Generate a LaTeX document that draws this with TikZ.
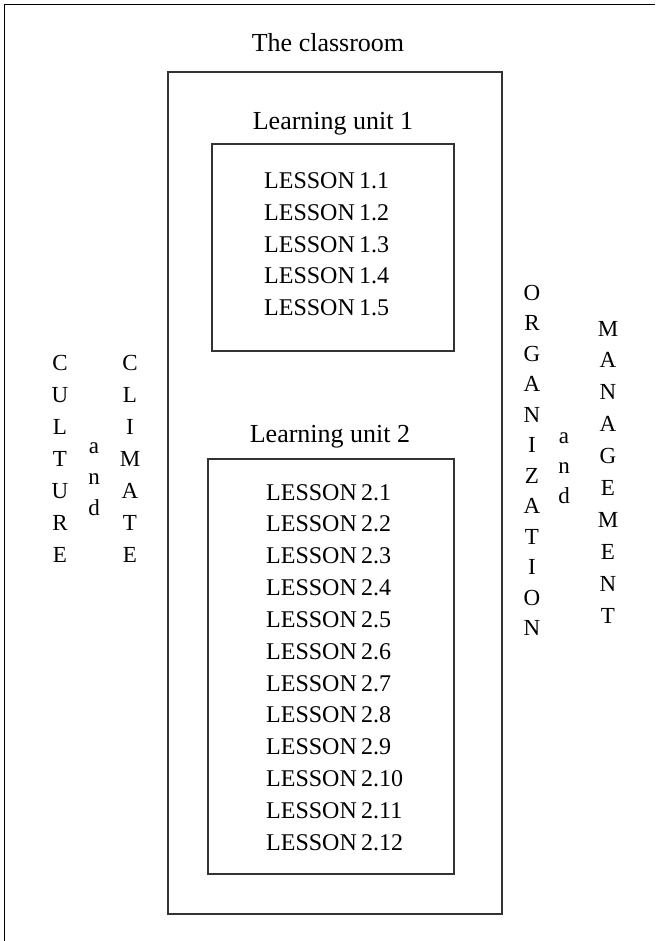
\documentclass[tikz,border=0pt]{standalone}
\usepackage{fontspec}
\setmainfont{Liberation Serif}
\begin{document}
\begin{tikzpicture}[x=1pt,y=-1pt,
  txt/.style={inner sep=0pt,font=\fontsize{23}{28}\selectfont},
  lsn/.style={inner sep=0pt,font=\fontsize{24}{29}\selectfont},
  ttl/.style={inner sep=0pt,font=\fontsize{26}{31}\selectfont},
  boxline/.style={draw=black!80,line width=1.1pt},
  frameline/.style={draw=black,line width=1.6pt}]
\useasboundingbox (0,0) rectangle (655,941);
% outer frame (top and left only)
\draw[frameline] (4.5,941) -- (4.5,4.5) -- (655,4.5);
% boxes
\draw[boxline] (168,72) rectangle (502,914);
\draw[boxline] (212,144) rectangle (454,351);
\draw[boxline] (208,459) rectangle (454,874);
% titles
\node[ttl,anchor=base] (title) at (328,52) {The classroom};
\node[ttl,anchor=base] (unit1) at (333,130) {Learning unit 1};
\node[ttl,anchor=base] (unit2) at (330,442) {Learning unit 2};
% lessons
\foreach \i in {1,...,5}
  \node[lsn,anchor=base west] (l1\i) at (264,{189+31.6*(\i-1)}) {LESSON\hspace{0.18em}1.\i};
\foreach \i in {1,...,12}
  \node[lsn,anchor=base west] (l2\i) at (266,{500+31.85*(\i-1)}) {LESSON\hspace{0.18em}2.\i};
% left vertical words
\foreach \c [count=\i] in {C,U,L,T,U,R,E}
  \node[txt,anchor=base] (cu\i) at (60,{370+32*(\i-1)}) {\c};
\foreach \c [count=\i] in {C,L,I,M,A,T,E}
  \node[txt,anchor=base] (cl\i) at (130,{370+32*(\i-1)}) {\c};
\foreach \c [count=\i] in {a,n,d}
  \node[txt,anchor=base] (andl\i) at (94,{453+31*(\i-1)}) {\c};
% right vertical words
\foreach \c [count=\i] in {O,R,G,A,N,I,Z,A,T,I,O,N}
  \node[txt,anchor=base] (or\i) at (532,{300+30.5*(\i-1)}) {\c};
\foreach \c [count=\i] in {a,n,d}
  \node[txt,anchor=base] (andr\i) at (564,{443+30*(\i-1)}) {\c};
\foreach \c [count=\i] in {M,A,N,A,G,E,M,E,N,T}
  \node[txt,anchor=base] (ma\i) at (608,{336+31.9*(\i-1)}) {\c};
\end{tikzpicture}
\end{document}
